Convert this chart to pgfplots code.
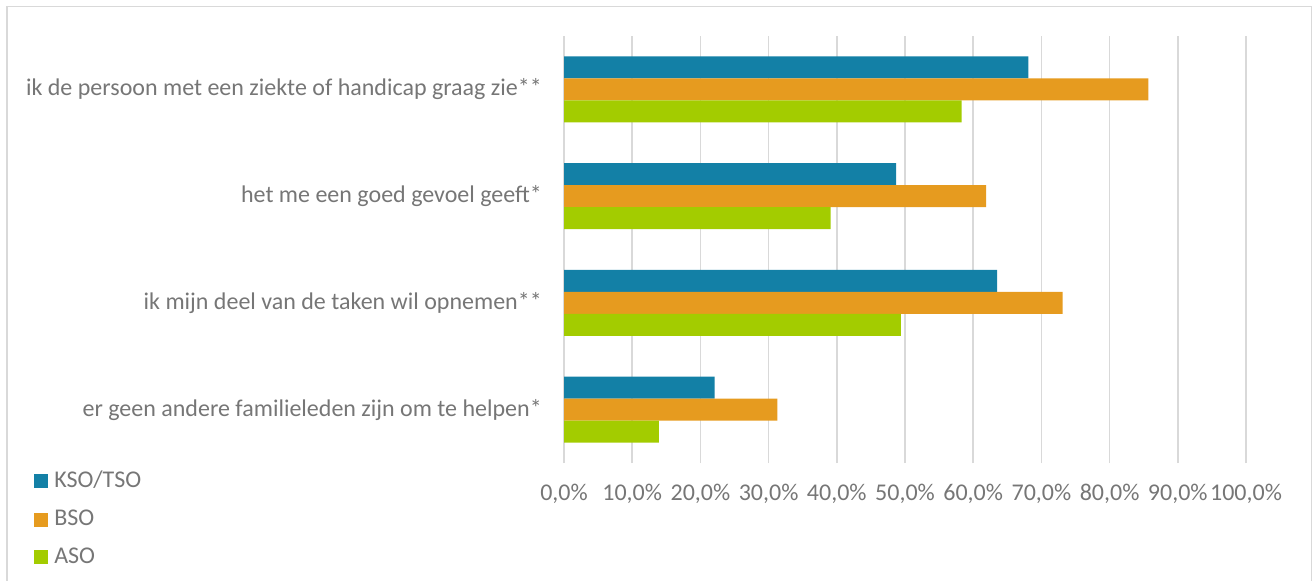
\documentclass[border=0pt]{standalone}
\usepackage{pgfplots}
\pgfplotsset{compat=1.18}
\usepackage{fontspec}
\setmainfont{Carlito}
\definecolor{cKSO}{RGB}{19,128,166}
\definecolor{cBSO}{RGB}{230,155,31}
\definecolor{cASO}{RGB}{163,204,0}
\definecolor{txt}{RGB}{118,118,118}
\definecolor{gridc}{RGB}{217,217,217}
\begin{document}
\fontsize{24bp}{28bp}\selectfont
\begin{tikzpicture}
\path[use as bounding box] (0bp,0bp) rectangle (1314bp,581bp);
\draw[gridc, line width=1.5bp] (7bp,0bp) -- (7bp,574.5bp) -- (1311.5bp,574.5bp) -- (1311.5bp,0bp);
\begin{axis}[
  at={(564bp,118bp)}, anchor=south west,
  scale only axis, width=682bp, height=427bp,
  xmin=0, xmax=100, ymin=-0.5, ymax=3.5,
  xbar,
  bar width=22bp,
  axis lines*=left,
  x axis line style={draw=none},
  y axis line style={gridc, line width=1.5bp},
  major tick length=0pt,
  xtick={0,10,...,100},
  xticklabels={{0,0\%},{10,0\%},{20,0\%},{30,0\%},{40,0\%},{50,0\%},{60,0\%},{70,0\%},{80,0\%},{90,0\%},{100,0\%}},
  ytick={0,1,2,3},
  yticklabels={er geen andere familieleden zijn om te helpen*, ik mijn deel van de taken wil opnemen**, het me een goed gevoel geeft*, ik de persoon met een ziekte of handicap graag zie**},
  xmajorgrids,
  grid style={gridc, line width=1.5bp},
  tick label style={text=txt, font=\fontsize{24bp}{28bp}\selectfont},
  xticklabel style={yshift=-13bp},
  yticklabel style={xshift=-14bp},
  /pgf/number format/assume math mode=true,
  legend style={
    at={(axis description cs:-0.777,-0.012)}, anchor=north west,
    draw=none, fill=none, inner sep=0pt, row sep=12.5bp,
    font=\fontsize{24bp}{28bp}\selectfont, text=txt,
    legend cell align=left,
    nodes={inner sep=3bp},
    /tikz/every odd column/.append style={column sep=3bp},
  },
  legend image code/.code={\fill[#1] (0bp,-7bp) rectangle (14bp,7bp);},
]
\addplot[fill=cKSO, draw=none, bar shift=22bp] coordinates {(68.1,3) (48.7,2) (63.5,1) (22.1,0)};
\addplot[fill=cBSO, draw=none, bar shift=0bp] coordinates {(85.7,3) (61.9,2) (73.1,1) (31.3,0)};
\addplot[fill=cASO, draw=none, bar shift=-22bp] coordinates {(58.3,3) (39.1,2) (49.4,1) (13.9,0)};
\legend{KSO/TSO, BSO, ASO}
\end{axis}
\end{tikzpicture}
\end{document}
